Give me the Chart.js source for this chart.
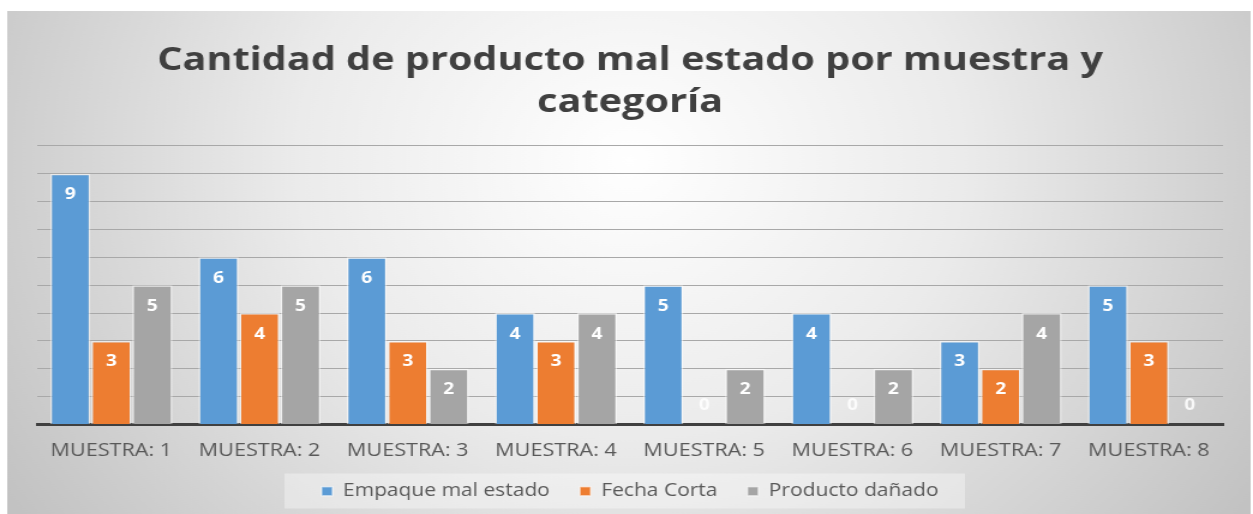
<!DOCTYPE html>
<html>
<head>
<meta charset="utf-8">
<script src="https://cdn.jsdelivr.net/npm/chart.js@4"></script>
<style>
  html, body { margin: 0; padding: 0; background: #ffffff; overflow: hidden; }
  /* the chart is drawn narrow and widened 1.2x, like the stretched Excel export */
  #wrap { width: 1044px; height: 514px; transform: scaleX(1.2002); transform-origin: 0 0; }
</style>
</head>
<body>
<div id="wrap"><canvas id="bar-chart" width="1044" height="514"></canvas></div>
<script>
var categorias = ["MUESTRA: 1", "MUESTRA: 2", "MUESTRA: 3", "MUESTRA: 4", "MUESTRA: 5", "MUESTRA: 6", "MUESTRA: 7", "MUESTRA: 8"];
var empaque = [9, 6, 6, 4, 5, 4, 3, 5];
var fechaCorta = [3, 4, 3, 3, 0, 0, 2, 3];
var danado = [5, 5, 2, 4, 2, 2, 4, 0];

// fondo con degradado radial, marco y caja de la leyenda
var fondo = {
  id: "fondo",
  beforeDraw: function (chart) {
    var ctx = chart.ctx;
    ctx.save();
    ctx.fillStyle = "#ffffff";
    ctx.fillRect(0, 0, chart.width, chart.height);
    var g = ctx.createRadialGradient(525, 160, 0, 525, 160, 620);
    g.addColorStop(0, "#ffffff");
    g.addColorStop(0.45, "#ebebeb");
    g.addColorStop(1, "#c2c2c2");
    ctx.fillStyle = g;
    ctx.fillRect(6, 11, 1036, 503);
    var boxes = chart.legend.legendHitBoxes;
    if (boxes && boxes.length) {
      var first = boxes[0], last = boxes[boxes.length - 1];
      ctx.fillStyle = "rgba(255,255,255,0.35)";
      ctx.fillRect(first.left - 31, first.top - 9, last.left + last.width - first.left + 53, 35);
    }
    ctx.restore();
  }
};

// etiquetas de valor dentro del extremo de cada barra
var etiquetas = {
  id: "etiquetas",
  afterDatasetsDraw: function (chart) {
    var ctx = chart.ctx;
    ctx.save();
    ctx.font = "bold 16px 'Open Sans'";
    ctx.textAlign = "center";
    ctx.textBaseline = "middle";
    chart.data.datasets.forEach(function (ds, i) {
      chart.getDatasetMeta(i).data.forEach(function (bar, j) {
        var v = ds.data[j];
        var y = v > 0 ? bar.y + 21 : bar.y - 19;
        ctx.fillStyle = v > 0 ? "#ffffff" : "rgba(255,255,255,0.85)";
        ctx.fillText(String(v), bar.x, y);
      });
    });
    ctx.restore();
  }
};

var ctx = document.getElementById("bar-chart").getContext("2d");
window.myBar = new Chart(ctx, {
  type: "bar",
  data: {
    labels: categorias,
    datasets: [
      { label: "Empaque mal estado", data: empaque, backgroundColor: "#5b9bd5" },
      { label: "Fecha Corta", data: fechaCorta, backgroundColor: "#ed7d31" },
      { label: "Producto dañado", data: danado, backgroundColor: "#a5a5a5" }
    ]
  },
  options: {
    responsive: false,
    animation: false,
    devicePixelRatio: 1,
    datasets: {
      bar: {
        categoryPercentage: 0.83,
        barPercentage: 0.98,
        borderColor: "rgba(255,255,255,0.5)",
        borderWidth: 1.5
      }
    },
    layout: { padding: { top: 16, left: 31, right: 25, bottom: 4 } },
    plugins: {
      title: {
        display: true,
        text: ["Cantidad de producto mal estado por muestra y", "categoría"],
        color: "#404040",
        font: { family: "'Open Sans'", size: 33, weight: "bold", lineHeight: 1.27 },
        padding: { top: 24, bottom: 22 }
      },
      legend: {
        position: "bottom",
        labels: {
          color: "#595959",
          font: { family: "'Open Sans'", size: 17.5 },
          boxWidth: 9,
          boxHeight: 9,
          padding: 25
        }
      },
      tooltip: { enabled: false }
    },
    scales: {
      x: {
        grid: { display: false, drawTicks: false },
        border: { display: true, color: "#404040", width: 3 },
        ticks: {
          color: "#595959",
          font: { family: "'Open Sans'", size: 18, lineHeight: 1 },
          padding: 17,
          maxRotation: 0
        },
        afterFit: function (scale) { scale.height = 33; }
      },
      y: {
        min: 0,
        max: 10,
        ticks: { display: false, stepSize: 1 },
        border: { display: false },
        grid: { color: "#a8a8a8", lineWidth: 1, drawTicks: false }
      }
    }
  },
  plugins: [fondo, etiquetas]
});
</script>
</body>
</html>
